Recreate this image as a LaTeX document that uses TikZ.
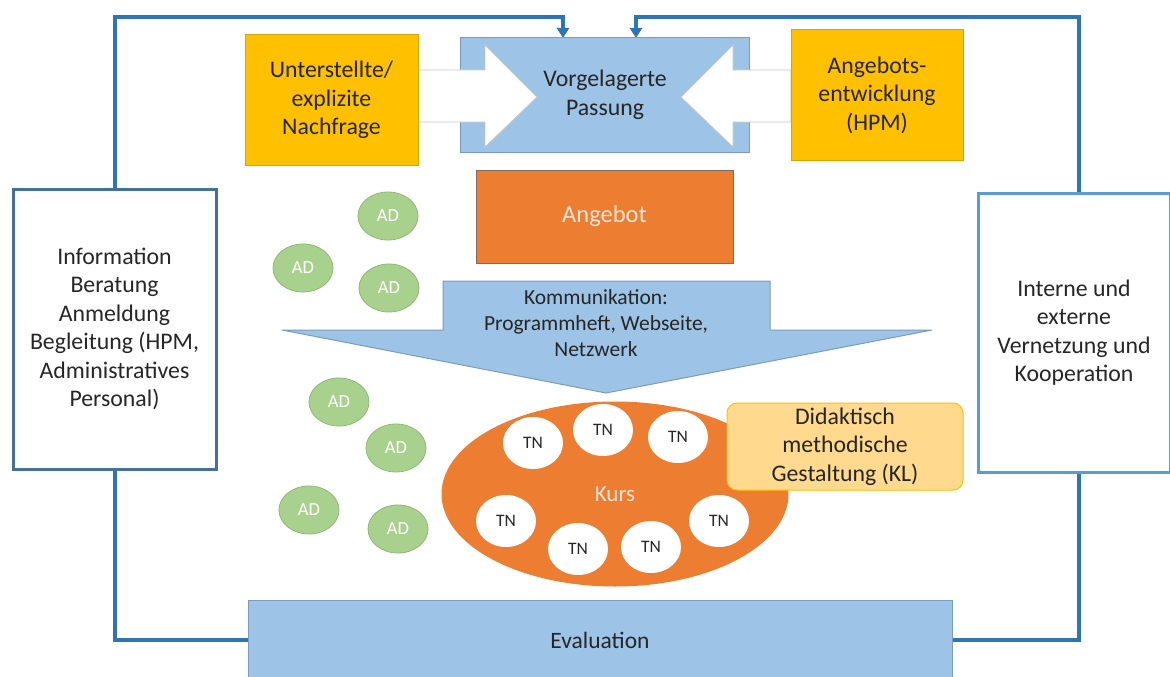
\documentclass[tikz,border=0pt]{standalone}
\usepackage{fontspec}
\setmainfont{Carlito}
\usetikzlibrary{arrows.meta,shapes.geometric}
\definecolor{txt}{HTML}{262626}
\definecolor{loopblue}{HTML}{2E75B6}
\definecolor{ltblue}{HTML}{9DC3E6}
\definecolor{ltblueborder}{HTML}{7A9CC0}
\definecolor{gold}{HTML}{FFC000}
\definecolor{goldborder}{HTML}{D9A400}
\definecolor{orng}{HTML}{ED7D31}
\definecolor{orngborder}{HTML}{7F6A5E}
\definecolor{paletxt}{HTML}{FBE5D6}
\definecolor{dida}{HTML}{FFD98E}
\definecolor{adgreen}{HTML}{A9D18E}
\definecolor{adborder}{HTML}{8DBA72}
\definecolor{leftborder}{HTML}{41719C}
\definecolor{rightborder}{HTML}{5B9BD5}
\begin{document}
\begin{tikzpicture}[x=1pt,y=-1pt,
  every node/.style={text=txt, align=center, font=\fontsize{23.8}{28.5}\selectfont},
  loopline/.style={draw=loopblue, line width=3.2pt},
  lightbox/.style={fill=ltblue, draw=ltblueborder, line width=1pt},
  goldbox/.style={fill=gold, draw=goldborder, line width=1pt},
  whitearrow/.style={fill=white, draw=black!22, line width=0.8pt},
  sidebox/.style={fill=white, line width=3pt},
  adnode/.style={ellipse, fill=adgreen, draw=adborder, line width=0.8pt, minimum width=60pt, minimum height=48pt, inner sep=0pt, text=white, font=\fontsize{18.5}{18.5}\selectfont},
  tnnode/.style={ellipse, fill=white, minimum width=60pt, minimum height=52pt, inner sep=0pt, font=\fontsize{17.5}{17.5}\selectfont}
]
\useasboundingbox (0,0) rectangle (1170,677);
\fill[white] (0,0) rectangle (1170,677);

% feedback loop coordinates
\coordinate (lb) at (115,640);
\coordinate (lt) at (115,17);
\coordinate (rt) at (1079,17);
\coordinate (rb) at (1079,640);
\coordinate (pinl) at (563,38);
\coordinate (pinr) at (636,38);

% evaluation box (named first for the loop)
\node[lightbox, minimum width=704pt, minimum height=80pt, inner sep=0pt, font=\fontsize{23.5}{25}\selectfont] (eval) at (600,640) {Evaluation};

\draw[loopline, -{Triangle[width=12pt,length=10pt]}] (eval.west) -- (lb) -- (lt) -| (pinl);
\draw[loopline, -{Triangle[width=12pt,length=10pt]}] (eval.east) -- (rb) -- (rt) -| (pinr);

% side boxes
\node[sidebox, draw=leftborder, minimum width=203pt, minimum height=280pt] (info) at (114.5,329)
  {Information\\Beratung\\Anmeldung\\Begleitung (HPM,\\Administratives\\Personal)};
\node[sidebox, draw=rightborder, minimum width=192pt, minimum height=279pt] (vern) at (1074,332.5)
  {Interne und\\externe\\Vernetzung und\\Kooperation};

% top: Vorgelagerte Passung
\node[lightbox, minimum width=289pt, minimum height=114pt] (vorg) at (604.5,95) {};
\path[whitearrow] (418,70) -- (485,70) -- (485,45) -- (537,97) -- (485,147) -- (485,122) -- (418,122) -- cycle;
\path[whitearrow] (791,70) -- (733,70) -- (733,45) -- (681,97) -- (733,147) -- (733,122) -- (791,122) -- cycle;
\node (vtext) at (605,95) {Vorgelagerte\\Passung};

\node[goldbox, minimum width=173pt, minimum height=130pt] (nach) at (331.5,100) {Unterstellte/\\explizite\\Nachfrage};
\node[goldbox, minimum width=172pt, minimum height=130pt] (angent) at (877,95) {Angebots-\\entwicklung\\(HPM)};

% Angebot
\node[fill=orng, draw=orngborder, line width=1pt, minimum width=257pt, minimum height=93pt, text=paletxt, font=\fontsize{24.5}{28.5}\selectfont] (angebot) at (604.5,216.5) {Angebot};

% Kommunikation arrow
\path[lightbox] (443,281) -- (770,281) -- (770,330) -- (932,330) -- (606,393) -- (282,330) -- (443,330) -- cycle;
\node[font=\fontsize{21.5}{26}\selectfont] (komm) at (596,323) {Kommunikation:\\Programmheft, Webseite,\\Netzwerk};

% Kurs
\node[ellipse, fill=orng, minimum width=347pt, minimum height=185pt, inner sep=0pt, text=paletxt, font=\fontsize{23}{24}\selectfont] (kurs) at (615,494) {Kurs};
\node[tnnode] (tn1) at (533,443) {TN};
\node[tnnode] (tn2) at (603,430) {TN};
\node[tnnode] (tn3) at (678,437) {TN};
\node[tnnode] (tn4) at (506,521) {TN};
\node[tnnode] (tn5) at (578,549) {TN};
\node[tnnode] (tn6) at (651,547) {TN};
\node[tnnode] (tn7) at (719,521) {TN};

% Didaktisch
\node[fill=dida, draw=gold, line width=1pt, rounded corners=10pt, minimum width=236pt, minimum height=87pt] (dida) at (845,446.5)
  {Didaktisch\\methodische\\Gestaltung (KL)};

% AD
\node[adnode] (ad1) at (388,216) {AD};
\node[adnode] (ad2) at (303,268) {AD};
\node[adnode] (ad3) at (389,288) {AD};
\node[adnode] (ad4) at (339,402) {AD};
\node[adnode] (ad5) at (396,448) {AD};
\node[adnode] (ad6) at (309,510) {AD};
\node[adnode] (ad7) at (398,529) {AD};
\end{tikzpicture}
\end{document}
